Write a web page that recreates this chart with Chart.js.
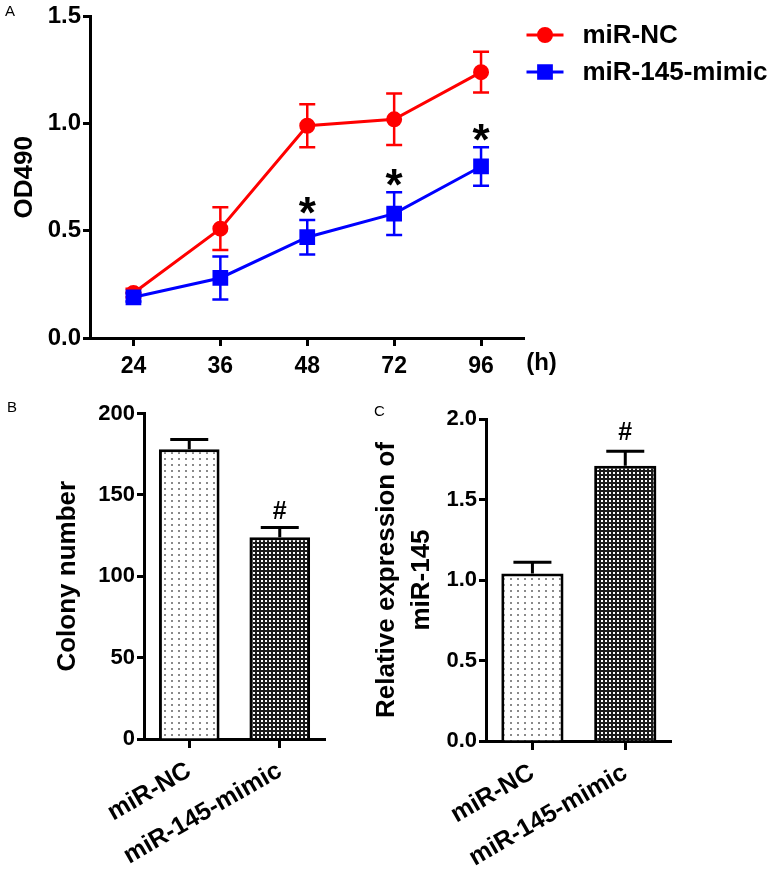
<!DOCTYPE html>
<html>
<head>
<meta charset="utf-8">
<script src="https://cdn.jsdelivr.net/npm/chart.js@4.4.0/dist/chart.umd.min.js"></script>
<style>
  html, body { margin: 0; padding: 0; background: #fff; }
  body { width: 772px; height: 869px; position: relative; overflow: hidden; }
  canvas { position: absolute; }
  #chart_a { left: 0; top: 0; }
  #chart_b { left: 0; top: 395px; }
  #chart_c { left: 360px; top: 395px; }
</style>
</head>
<body>
<canvas id="chart_a" width="772" height="395" style="width:772px;height:395px"></canvas>
<canvas id="chart_b" width="360" height="474" style="width:360px;height:474px"></canvas>
<canvas id="chart_c" width="412" height="474" style="width:412px;height:474px"></canvas>
<script>
// panel A - OD490 over time
const hours = ['24', '36', '48', '72', '96']
const od_nc = [0.21, 0.51, 0.99, 1.02, 1.24]
const od_nc_sd = [0.02, 0.10, 0.10, 0.12, 0.095]
const od_mimic = [0.19, 0.28, 0.47, 0.58, 0.80]
const od_mimic_sd = [0.02, 0.10, 0.08, 0.10, 0.09]
const od_marks = ['', '', '*', '*', '*']
const od_ticks = [0, 0.5, 1.0, 1.5]

// panel B - colony number
const groups = ['miR-NC', 'miR-145-mimic']
const colony = [178, 124]
const colony_sd = [6, 6]
const colony_marks = ['', '#']
const colony_ticks = [0, 50, 100, 150, 200]

// panel C - relative expression
const expr = [1.04, 1.71]
const expr_sd = [0.07, 0.09]
const expr_marks = ['', '#']
const expr_ticks = [0, 0.5, 1.0, 1.5, 2.0]

const FONT = '"Liberation Sans", Arial, Helvetica, sans-serif'
Chart.defaults.font.family = FONT
Chart.defaults.font.weight = 'bold'
Chart.defaults.color = '#000'

// fill patterns for the bars
function dotPattern() {
    const c = document.createElement('canvas')
    c.width = 7
    c.height = 6
    const g = c.getContext('2d')
    g.fillStyle = '#fff'
    g.fillRect(0, 0, 7, 6)
    g.fillStyle = '#8a8a8a'
    g.fillRect(3, 3, 2, 2)
    return g.createPattern(c, 'repeat')
}
function checkPattern() {
    const c = document.createElement('canvas')
    c.width = 4
    c.height = 4
    const g = c.getContext('2d')
    g.fillStyle = '#1c1c1c'
    g.fillRect(0, 0, 4, 4)
    g.fillStyle = '#fff'
    g.fillRect(1, 1, 2, 2)
    return g.createPattern(c, 'repeat')
}

function drawErrors(chart, opts) {
    const ctx = chart.ctx
    const y = chart.scales.y
    chart.data.datasets.forEach((ds, i) => {
        const meta = chart.getDatasetMeta(i)
        ds.errors.forEach((sd, j) => {
            const x = meta.data[j].x
            const v = ds.data[j]
            const top = y.getPixelForValue(v + sd)
            const bottom = opts.upperOnly ? y.getPixelForValue(v) : y.getPixelForValue(v - sd)
            ctx.save()
            ctx.strokeStyle = opts.color || ds.borderColor
            ctx.lineWidth = opts.width
            ctx.beginPath()
            ctx.moveTo(x, top)
            ctx.lineTo(x, bottom)
            ctx.moveTo(x - opts.cap, top)
            ctx.lineTo(x + opts.cap, top)
            if (!opts.upperOnly) {
                ctx.moveTo(x - opts.cap, bottom)
                ctx.lineTo(x + opts.cap, bottom)
            }
            ctx.stroke()
            ctx.restore()
        })
    })
}

const errorbars = {
    id: 'errorbars',
    beforeDatasetsDraw(chart, args, opts) {
        if (opts.under) drawErrors(chart, opts)
    },
    afterDatasetsDraw(chart, args, opts) {
        if (!opts.under) drawErrors(chart, opts)
    }
}

// significance marks above the error bars
const marks = {
    id: 'marks',
    afterDatasetsDraw(chart, args, opts) {
        const ds = chart.data.datasets[opts.dataset]
        const meta = chart.getDatasetMeta(opts.dataset)
        const ctx = chart.ctx
        ctx.save()
        ctx.font = 'bold ' + opts.size + 'px ' + FONT
        ctx.fillStyle = '#000'
        ctx.textAlign = 'center'
        ctx.textBaseline = 'alphabetic'
        opts.labels.forEach((m, j) => {
            if (!m) return
            const box = ctx.measureText(m)
            const cy = chart.scales.y.getPixelForValue(ds.data[j] + ds.errors[j]) - opts.gap
            ctx.fillText(m, meta.data[j].x, cy + (box.actualBoundingBoxAscent - box.actualBoundingBoxDescent) / 2)
        })
        ctx.restore()
    }
}

// panel letter, plus any extra text
const annotations = {
    id: 'annotations',
    afterDraw(chart, args, opts) {
        const ctx = chart.ctx
        ctx.save()
        ctx.fillStyle = '#000'
        ctx.textBaseline = 'middle'
        ctx.textAlign = 'left'
        ctx.font = 'normal 15px ' + FONT
        ctx.fillText(opts.letter, opts.lx, opts.ly)
        if (opts.unit) {
            ctx.font = 'bold 24px ' + FONT
            ctx.textAlign = 'center'
            const x = chart.scales.x
            ctx.fillText(opts.unit, x.right + 17, x.top + 25)
        }
        ctx.restore()
    }
}

// legend with a line through each marker
const lineLegend = {
    id: 'lineLegend',
    afterDraw(chart, args, opts) {
        if (!opts.show) return
        const ctx = chart.ctx
        const left = chart.chartArea.right + 2
        chart.data.datasets.forEach((ds, i) => {
            const y = opts.top + i * opts.step
            ctx.save()
            ctx.strokeStyle = ds.borderColor
            ctx.lineWidth = ds.borderWidth
            ctx.beginPath()
            ctx.moveTo(left, y)
            ctx.lineTo(left + 37, y)
            ctx.stroke()
            ctx.fillStyle = ds.pointBackgroundColor
            ctx.strokeStyle = ds.borderColor
            Chart.helpers.drawPoint(ctx, { pointStyle: ds.pointStyle, radius: ds.pointRadius, rotation: 0, borderWidth: 1 }, left + 18.5, y)
            ctx.fillStyle = '#000'
            ctx.font = 'bold 26px ' + FONT
            ctx.textBaseline = 'middle'
            ctx.textAlign = 'left'
            ctx.fillText(ds.label, left + 56, y + 1)
            ctx.restore()
        })
    }
}

function yAxis(ticks, width, decimals, title, titlePad, size) {
    return {
        min: ticks[0],
        max: ticks[ticks.length - 1],
        ticks: {
            stepSize: ticks[1] - ticks[0],
            callback: v => Number(v).toFixed(decimals),
            font: { size: size, weight: 'bold' },
            color: '#000',
            padding: 2
        },
        grid: { drawOnChartArea: false, tickLength: 7, tickWidth: 3, color: '#000' },
        border: { color: '#000', width: 3 },
        title: {
            display: true,
            text: title,
            font: { size: 26, weight: 'bold', lineHeight: 1.35 },
            color: '#000',
            padding: { top: titlePad, bottom: 0 }
        },
        afterFit: scale => { scale.width = width }
    }
}

new Chart(document.querySelector('#chart_a'), {
    type: 'line',
    data: {
        labels: hours,
        datasets: [{
            label: 'miR-NC',
            data: od_nc,
            errors: od_nc_sd,
            borderColor: '#ff0000',
            backgroundColor: '#ff0000',
            pointBackgroundColor: '#ff0000',
            pointBorderColor: '#ff0000',
            borderWidth: 3,
            pointStyle: 'circle',
            pointRadius: 6.5,
            tension: 0,
            order: 1
        }, {
            label: 'miR-145-mimic',
            data: od_mimic,
            errors: od_mimic_sd,
            borderColor: '#0000ff',
            backgroundColor: '#0000ff',
            pointBackgroundColor: '#0000ff',
            pointBorderColor: '#0000ff',
            borderWidth: 3,
            pointStyle: 'rect',
            pointRadius: 9,
            tension: 0,
            order: 0
        }]
    },
    options: {
        responsive: false,
        animation: false,
        layout: { padding: { top: 13, right: 247.5, left: 0, bottom: 0 } },
        plugins: {
            legend: { display: false },
            tooltip: { enabled: false },
            errorbars: { under: true, width: 2.5, cap: 8 },
            marks: { dataset: 1, labels: od_marks, size: 44, gap: 15 },
            annotations: { letter: 'A', lx: 5, ly: 12, unit: '(h)' },
            lineLegend: { show: true, top: 35, step: 37 }
        },
        scales: {
            x: {
                offset: true,
                grid: { offset: false, drawOnChartArea: false, tickLength: 8, tickWidth: 3, color: '#000' },
                border: { color: '#000', width: 3 },
                ticks: { font: { size: 23, weight: 'bold' }, color: '#000', padding: 7, maxRotation: 0 },
                afterFit: scale => { scale.height = 57 }
            },
            y: yAxis(od_ticks, 90, 1, 'OD490', 7, 24)
        }
    },
    plugins: [errorbars, marks, annotations, lineLegend]
})

function barChart(id, values, sds, ticks, decimals, title, titlePad, marksList, markGap, box, letter) {
    new Chart(document.querySelector(id), {
        type: 'bar',
        data: {
            labels: groups,
            datasets: [{
                data: values,
                errors: sds,
                backgroundColor: [dotPattern(), checkPattern()],
                borderColor: '#000',
                borderWidth: 3,
                barPercentage: 0.67,
                categoryPercentage: 1
            }]
        },
        options: {
            responsive: false,
            animation: false,
            layout: { padding: { top: box.top, right: box.right, left: 0, bottom: 0 } },
            plugins: {
                legend: { display: false },
                tooltip: { enabled: false },
                errorbars: { under: false, upperOnly: true, color: '#000', width: 3, cap: 19 },
                marks: { dataset: 0, labels: marksList, size: 25, gap: markGap },
                annotations: { letter: letter, lx: box.lx, ly: box.ly },
                lineLegend: { show: false }
            },
            scales: {
                x: {
                    grid: { offset: false, drawOnChartArea: false, tickLength: 9, tickWidth: 3, color: '#000' },
                    border: { color: '#000', width: 3 },
                    ticks: { font: { size: 25, weight: 'bold' }, color: '#000', padding: 8, minRotation: 30, maxRotation: 30 },
                    afterFit: scale => { scale.height = box.xh }
                },
                y: yAxis(ticks, box.yw, decimals, title, titlePad, 22)
            }
        },
        plugins: [errorbars, marks, annotations, lineLegend]
    })
}

barChart('#chart_b', colony, colony_sd, colony_ticks, 0, 'Colony number', 50, colony_marks, 17,
    { top: 18.5, right: 35, xh: 130, yw: 144, lx: 7, ly: 13 }, 'B')
barChart('#chart_c', expr, expr_sd, expr_ticks, 1, ['Relative expression of', 'miR-145'], 9, expr_marks, 20,
    { top: 24, right: 100.3, xh: 128, yw: 126, lx: 14, ly: 17 }, 'C')
</script>
</body>
</html>
